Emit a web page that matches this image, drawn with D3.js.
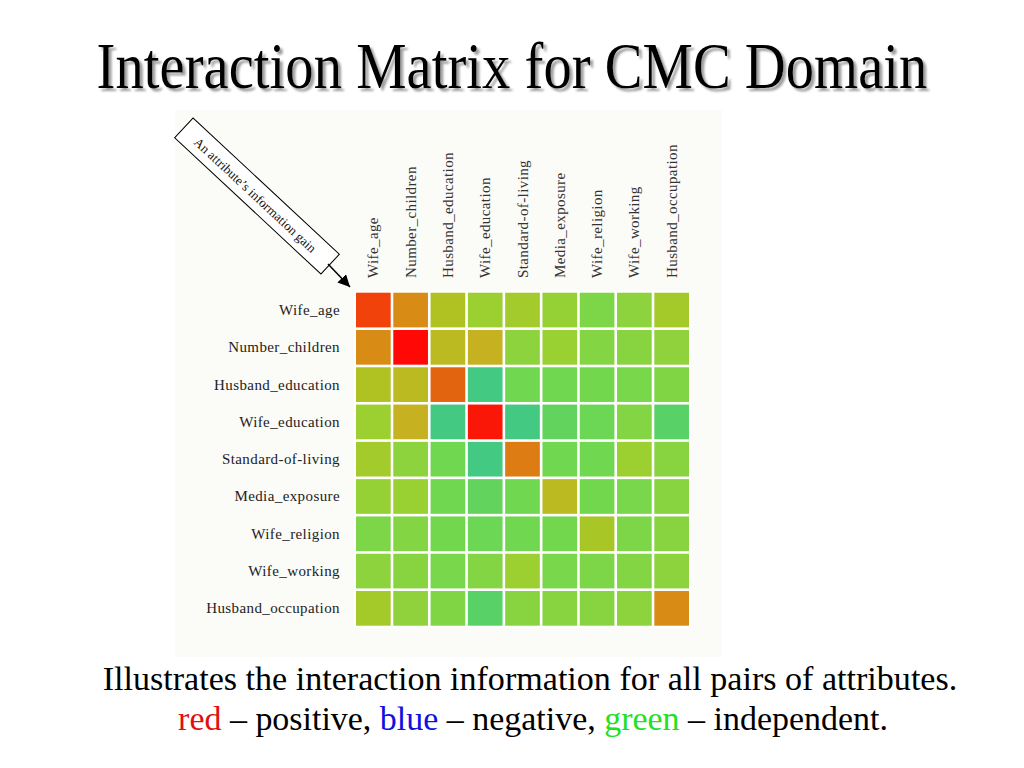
<!DOCTYPE html>
<html>
<head>
<meta charset="utf-8">
<script src="https://cdn.jsdelivr.net/npm/d3@7"></script>
<style>
  body { margin: 0; background: #fff; }
  svg { display: block; font-family: "Liberation Serif", "DejaVu Serif", serif; }
</style>
</head>
<body>
<svg id="chart" width="1024" height="768"></svg>
<script>
const attributes = [
  'Wife_age', 'Number_children', 'Husband_education', 'Wife_education',
  'Standard-of-living', 'Media_exposure', 'Wife_religion', 'Wife_working',
  'Husband_occupation'
]

// interaction strength: >0 positive (red), <0 negative (blue-ish), ~0 independent
const interaction = [
  [0.92, 0.70, 0.45, 0.30, 0.35, 0.25, 0.08, 0.18, 0.36],
  [0.70, 1.00, 0.50, 0.55, 0.18, 0.28, 0.12, 0.15, 0.20],
  [0.45, 0.50, 0.85, -0.60, 0.00, 0.00, 0.02, 0.05, 0.10],
  [0.30, 0.55, -0.60, 0.98, -0.60, -0.15, -0.05, 0.12, -0.25],
  [0.35, 0.18, 0.00, -0.60, 0.76, 0.00, 0.00, 0.30, 0.15],
  [0.25, 0.28, 0.00, -0.15, 0.00, 0.50, 0.02, 0.05, 0.15],
  [0.08, 0.12, 0.02, -0.05, 0.00, 0.02, 0.40, 0.08, 0.15],
  [0.18, 0.15, 0.05, 0.12, 0.30, 0.05, 0.08, 0.12, 0.18],
  [0.36, 0.20, 0.10, -0.25, 0.15, 0.15, 0.15, 0.18, 0.70]
]

const colorStops = [-0.6, -0.25, 0, 0.15, 0.3, 0.45, 0.55, 0.7, 0.85, 0.92, 1]
const colorRange = ['#44c982', '#58d166', '#70d850', '#88d440', '#9ccf30', '#b0c222',
  '#c6b120', '#d88c16', '#e2640e', '#f0420a', '#ff0806']

const titleText = 'Interaction Matrix for CMC Domain'
const captionText = 'Illustrates the interaction information for all pairs of attributes.'
const legendParts = [
  { text: 'red', color: '#e01010' },
  { text: ' – positive, ', color: '#000' },
  { text: 'blue', color: '#1010e0' },
  { text: ' – negative, ', color: '#000' },
  { text: 'green', color: '#22e022' },
  { text: ' – independent.', color: '#000' }
]
const noteText = 'An attribute’s information gain'

const SERIF = 'Liberation Serif'
const svg = d3.select('#chart')
const defs = svg.append('defs')

// squeeze a centred text horizontally to the width it has in the slide
function fitWidth (sel, width) {
  const node = sel.node()
  const cx = +sel.attr('x')
  const sx = width / node.getComputedTextLength()
  sel.attr('transform', `translate(${cx},0) scale(${sx},1) translate(${-cx},0)`)
}

defs.append('filter')
  .attr('id', 'shadow')
  .attr('filterUnits', 'userSpaceOnUse')
  .attr('x', 0).attr('y', 0)
  .attr('width', 1024).attr('height', 110)
  .append('feDropShadow')
  .attr('dx', 3).attr('dy', 3)
  .attr('stdDeviation', 1)
  .attr('flood-color', '#808080')
  .attr('flood-opacity', 0.75)

// title
svg.append('g')
  .attr('filter', 'url(#shadow)')
  .append('text')
  .attr('x', 512).attr('y', 88)
  .attr('text-anchor', 'middle')
  .attr('font-family', SERIF)
  .attr('font-size', 66)
  .attr('fill', '#000')
  .text(titleText)
  .call(fitWidth, 831)

// picture panel
svg.append('rect')
  .attr('x', 175).attr('y', 110)
  .attr('width', 547).attr('height', 547)
  .attr('fill', '#fbfbf8')

const x = d3.scaleBand().domain(attributes).range([356, 689]).paddingInner(0.07)
const y = d3.scaleBand().domain(attributes).range([292.7, 625.7]).paddingInner(0.07)
const color = d3.scaleLinear().domain(colorStops).range(colorRange).clamp(true)

const cells = interaction.flatMap((row, i) => row.map((v, j) => ({ row: attributes[i], col: attributes[j], v })))

svg.append('rect')
  .attr('x', x.range()[0] - 2).attr('y', y.range()[0] - 2)
  .attr('width', x.range()[1] - x.range()[0] + 4)
  .attr('height', y.range()[1] - y.range()[0] + 4)
  .attr('fill', '#fff')

svg.append('g').selectAll('rect')
  .data(cells)
  .join('rect')
  .attr('x', d => x(d.col))
  .attr('y', d => y(d.row))
  .attr('width', x.bandwidth())
  .attr('height', y.bandwidth())
  .attr('fill', d => color(d.v))

// row labels
svg.append('g').selectAll('text')
  .data(attributes)
  .join('text')
  .attr('x', 340)
  .attr('y', d => y(d) + y.bandwidth() / 2 + 5)
  .attr('text-anchor', 'end')
  .attr('font-family', SERIF)
  .attr('font-size', 15)
  .attr('letter-spacing', 0.4)
  .attr('fill', '#222')
  .text(d => d)

// column labels
svg.append('g').selectAll('text')
  .data(attributes)
  .join('text')
  .attr('transform', d => `translate(${x(d) + x.bandwidth() / 2 + 5},278) rotate(-90)`)
  .attr('font-family', SERIF)
  .attr('font-size', 15)
  .attr('letter-spacing', 0.4)
  .attr('fill', '#333')
  .text(d => d)

// annotation box with arrow
const note = svg.append('g').attr('transform', 'translate(257,196) rotate(43)')
note.append('rect')
  .attr('x', -100).attr('y', -13.5)
  .attr('width', 200).attr('height', 27)
  .attr('fill', '#fff')
  .attr('stroke', '#000')
  .attr('stroke-width', 1)
note.append('text')
  .attr('x', -2).attr('y', 5)
  .attr('text-anchor', 'middle')
  .attr('font-family', SERIF)
  .attr('font-size', 13)
  .attr('fill', '#111')
  .text(noteText)

defs.append('marker')
  .attr('id', 'arrow')
  .attr('viewBox', '0 0 10 10')
  .attr('refX', 10).attr('refY', 5)
  .attr('markerWidth', 8).attr('markerHeight', 8)
  .attr('orient', 'auto')
  .append('path')
  .attr('d', 'M0,0L10,5L0,10Z')
  .attr('fill', '#000')

svg.append('line')
  .attr('x1', 328).attr('y1', 264)
  .attr('x2', 350).attr('y2', 287)
  .attr('stroke', '#000')
  .attr('stroke-width', 1.5)
  .attr('marker-end', 'url(#arrow)')

// caption
svg.append('text')
  .attr('x', 530).attr('y', 690)
  .attr('text-anchor', 'middle')
  .attr('font-family', SERIF)
  .attr('font-size', 34)
  .text(captionText)
  .call(fitWidth, 855)

const legend = svg.append('text')
  .attr('x', 533).attr('y', 730)
  .attr('text-anchor', 'middle')
  .attr('font-family', SERIF)
  .attr('font-size', 34)
legend.selectAll('tspan')
  .data(legendParts)
  .join('tspan')
  .attr('fill', d => d.color)
  .text(d => d.text)
legend.call(fitWidth, 710)
</script>
</body>
</html>
